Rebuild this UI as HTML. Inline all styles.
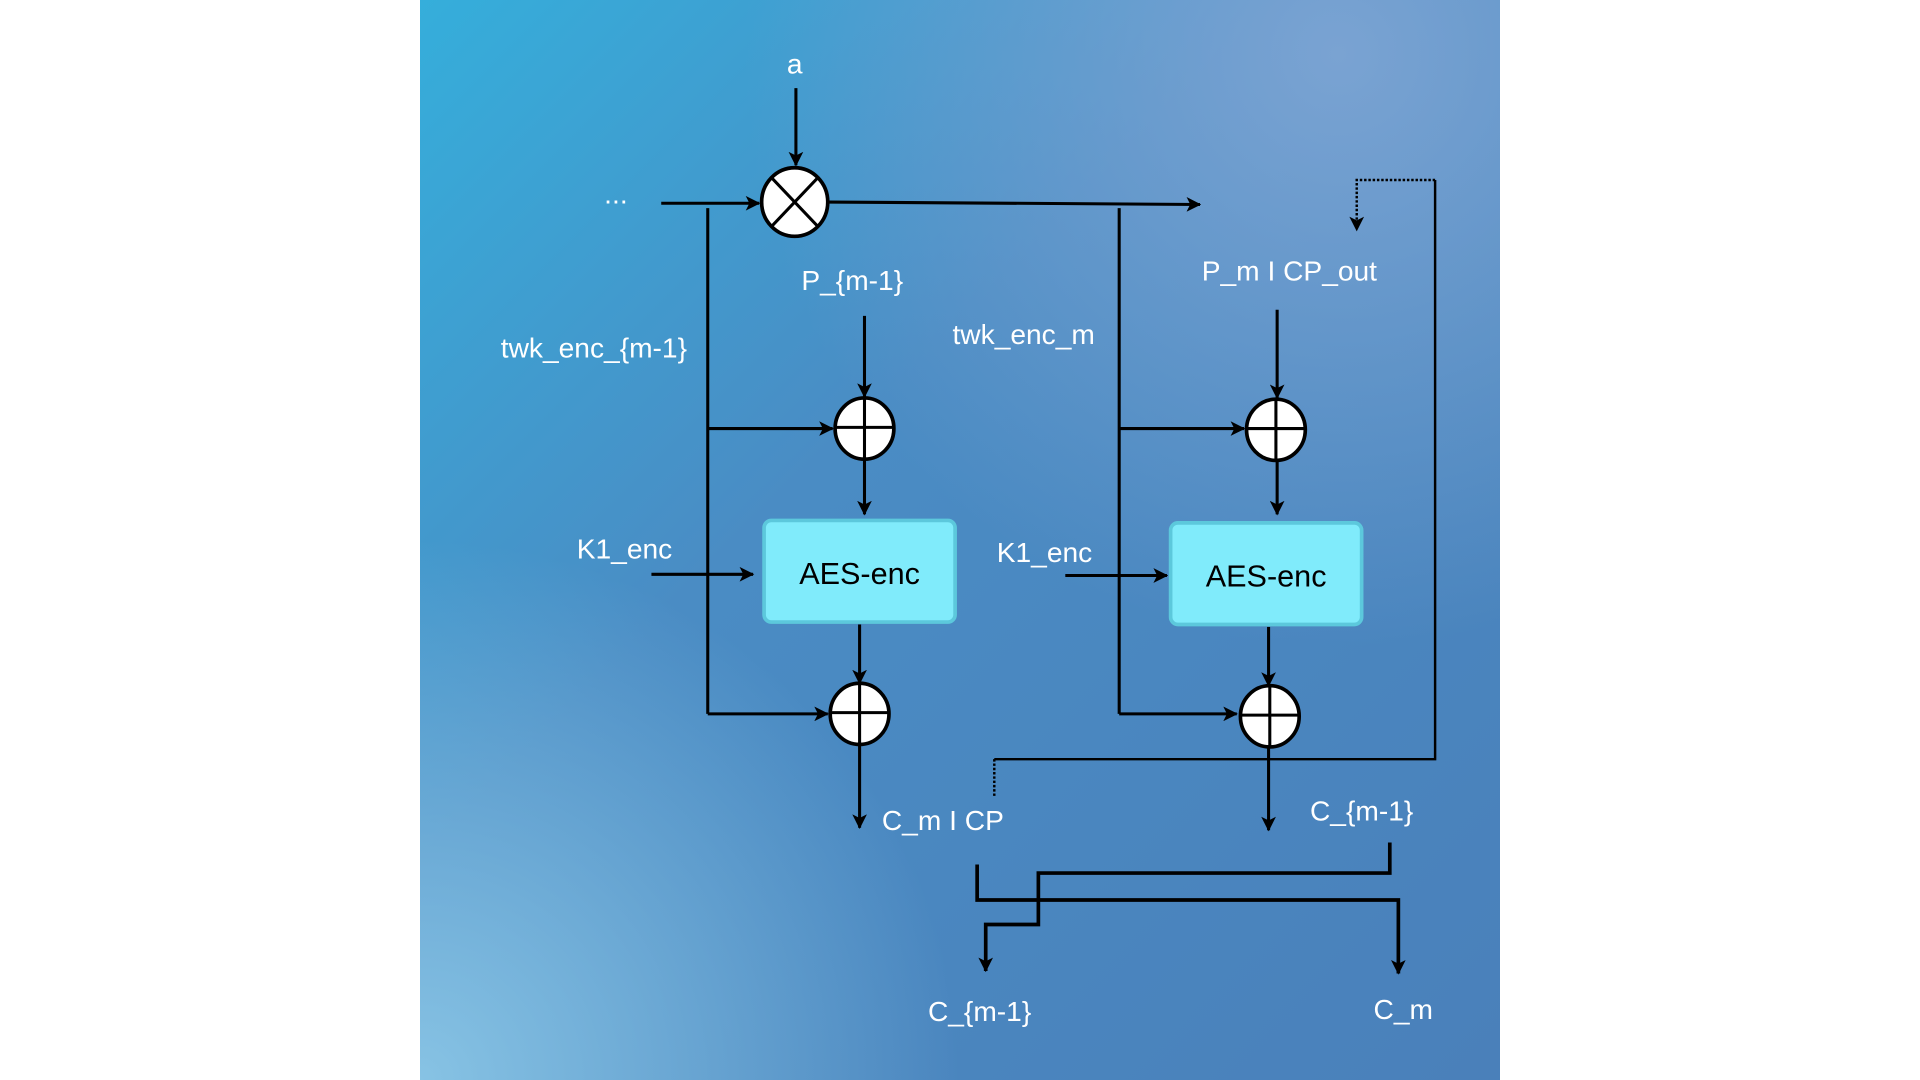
<!DOCTYPE html>
<html><head><meta charset="utf-8"><style>html,body{margin:0;padding:0;background:#fff;}svg{display:block}</style></head>
<body>
<svg width="1920" height="1080" viewBox="0 0 1568 882" xmlns="http://www.w3.org/2000/svg">
<defs>
<linearGradient id="g1" x1="0" y1="0" x2="1" y2="1">
<stop offset="0" stop-color="#35aedb"/>
<stop offset="0.4" stop-color="#4a8cc4"/>
<stop offset="1" stop-color="#4a80ba"/>
</linearGradient>
<radialGradient id="g2" cx="0.85" cy="0.05" r="0.55">
<stop offset="0" stop-color="#86a9d6" stop-opacity="0.8"/>
<stop offset="1" stop-color="#86a9d6" stop-opacity="0"/>
</radialGradient>
<radialGradient id="g3" cx="0" cy="1" r="0.5">
<stop offset="0" stop-color="#92cdea" stop-opacity="0.85"/>
<stop offset="1" stop-color="#92cdea" stop-opacity="0"/>
</radialGradient>
<marker id="ah" viewBox="0 0 12 12" refX="11" refY="6" markerWidth="12" markerHeight="12" markerUnits="userSpaceOnUse" orient="auto">
<path d="M0,0 L12,6 L0,12 L3,6 Z" fill="#000"/>
</marker>
</defs>
<rect x="343" y="0" width="882" height="882" fill="url(#g1)"/>
<rect x="343" y="0" width="882" height="882" fill="url(#g2)"/>
<rect x="343" y="0" width="882" height="882" fill="url(#g3)"/>

<g font-family="Liberation Sans, sans-serif" font-size="23" fill="#fff" text-anchor="middle">
<text x="649" y="60">a</text>
<text x="503" y="166">...</text>
<text x="696" y="237">P_{m-1}</text>
<text x="485" y="292">twk_enc_{m-1}</text>
<text x="836" y="281">twk_enc_m</text>
<text x="1053" y="229">P_m I CP_out</text>
<text x="510" y="456">K1_enc</text>
<text x="853" y="459">K1_enc</text>
<text x="770" y="678">C_m I CP</text>
<text x="1112" y="670">C_{m-1}</text>
<text x="800" y="834">C_{m-1}</text>
<text x="1146" y="832">C_m</text>
</g>

<g stroke="#000" stroke-width="2.5" fill="none">
<line x1="650" y1="72" x2="650" y2="135" marker-end="url(#ah)"/>
<line x1="540" y1="166" x2="620" y2="166" marker-end="url(#ah)"/>
<line x1="677" y1="165" x2="980" y2="167" marker-end="url(#ah)"/>
<line x1="578" y1="170" x2="578" y2="583"/>
<line x1="578" y1="350" x2="680" y2="350" marker-end="url(#ah)"/>
<line x1="578" y1="583" x2="676" y2="583" marker-end="url(#ah)"/>
<line x1="706" y1="258" x2="706" y2="324" marker-end="url(#ah)"/>
<line x1="706" y1="375" x2="706" y2="420" marker-end="url(#ah)"/>
<line x1="532" y1="469" x2="615" y2="469" marker-end="url(#ah)"/>
<line x1="702" y1="510" x2="702" y2="558" marker-end="url(#ah)"/>
<line x1="702" y1="608" x2="702" y2="676" marker-end="url(#ah)"/>

<line x1="914" y1="170" x2="914" y2="583"/>
<line x1="914" y1="350" x2="1016" y2="350" marker-end="url(#ah)"/>
<line x1="914" y1="583" x2="1010" y2="583" marker-end="url(#ah)"/>
<line x1="1043" y1="253" x2="1043" y2="325" marker-end="url(#ah)"/>
<line x1="1043" y1="376" x2="1043" y2="420" marker-end="url(#ah)"/>
<line x1="870" y1="470" x2="953" y2="470" marker-end="url(#ah)"/>
<line x1="1036" y1="512" x2="1036" y2="560" marker-end="url(#ah)"/>
<line x1="1036" y1="610" x2="1036" y2="678" marker-end="url(#ah)"/>

<polyline points="812,620 1172,620 1172,147" stroke-width="2"/>
<polyline points="1172,147 1108,147 1108,188" stroke-width="2" stroke-dasharray="2,1.5" marker-end="url(#ah)"/>
<line x1="812" y1="620" x2="812" y2="650" stroke-width="2" stroke-dasharray="2,1.5"/>

<polyline points="1135,688 1135,713 848,713 848,755 805,755 805,793" stroke-width="3" marker-end="url(#ah)"/>
<polyline points="798,706 798,735 1142,735 1142,795" stroke-width="3" marker-end="url(#ah)"/>
</g>

<g stroke="#000" stroke-width="3" fill="#fff">
<ellipse cx="649" cy="165" rx="27" ry="28"/>
<ellipse cx="706" cy="350" rx="24" ry="25"/>
<ellipse cx="702" cy="583" rx="24" ry="25"/>
<ellipse cx="1042" cy="351" rx="24" ry="25"/>
<ellipse cx="1037" cy="585" rx="24" ry="25"/>
</g>
<g stroke="#000" stroke-width="2.5">
<line x1="630" y1="145" x2="668" y2="185"/><line x1="668" y1="145" x2="630" y2="185"/>
<line x1="682" y1="349" x2="730" y2="349"/><line x1="706" y1="325" x2="706" y2="375"/>
<line x1="678" y1="582" x2="726" y2="582"/><line x1="702" y1="558" x2="702" y2="608"/>
<line x1="1018" y1="350" x2="1066" y2="350"/><line x1="1042" y1="326" x2="1042" y2="376"/>
<line x1="1013" y1="584" x2="1061" y2="584"/><line x1="1037" y1="560" x2="1037" y2="610"/>
</g>

<rect x="624" y="425" width="156" height="83" rx="6" fill="#80ebfb" stroke="#5cc8dc" stroke-width="3"/>
<rect x="956" y="427" width="156" height="83" rx="6" fill="#80ebfb" stroke="#5cc8dc" stroke-width="3"/>
<g font-family="Liberation Sans, sans-serif" font-size="25" fill="#000" text-anchor="middle">
<text x="702" y="477">AES-enc</text>
<text x="1034" y="479">AES-enc</text>
</g>
</svg>
</body></html>
